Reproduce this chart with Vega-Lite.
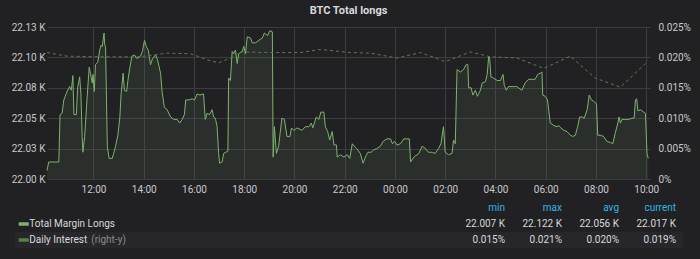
{
  "$schema": "https://vega.github.io/schema/vega-lite/v6.json",
  "background": "#212124",
  "padding": {"left": 11, "top": 5, "right": 14, "bottom": 12},
  "config": {
    "font": "Roboto",
    "view": {"stroke": null},
    "axis": {"labelFont": "Roboto", "labelFontSize": 10, "labelColor": "#c8c9ca", "domain": false, "ticks": false, "gridColor": "#3c3c41", "gridWidth": 1},
    "concat": {"spacing": 6}
  },
  "datasets": {
    "longs": [
      {"h":10.15,"v":22007},{"h":10.22,"v":22014},{"h":10.62,"v":22014},{"h":10.67,"v":22053},{"h":10.75,"v":22054},{"h":10.82,"v":22065},{"h":10.95,"v":22072},{"h":11.05,"v":22076},{"h":11.12,"v":22073},{"h":11.18,"v":22085},{"h":11.22,"v":22053},{"h":11.32,"v":22053},{"h":11.37,"v":22075},{"h":11.45,"v":22084},{"h":11.5,"v":22070},{"h":11.55,"v":22035},{"h":11.58,"v":22022},{"h":11.65,"v":22035},{"h":11.75,"v":22068},{"h":11.83,"v":22092},{"h":11.88,"v":22087},{"h":11.95,"v":22079},{"h":11.98,"v":22086},{"h":12.03,"v":22072},{"h":12.08,"v":22094},{"h":12.17,"v":22096},{"h":12.25,"v":22106},{"h":12.3,"v":22110},{"h":12.35,"v":22109},{"h":12.42,"v":22120},{"h":12.45,"v":22110},{"h":12.48,"v":22109},{"h":12.55,"v":22027},{"h":12.62,"v":22017},{"h":12.75,"v":22017},{"h":12.8,"v":22021},{"h":12.88,"v":22027},{"h":12.97,"v":22036},{"h":13.05,"v":22051},{"h":13.1,"v":22070},{"h":13.18,"v":22087},{"h":13.23,"v":22073},{"h":13.32,"v":22072},{"h":13.37,"v":22081},{"h":13.45,"v":22092},{"h":13.53,"v":22101},{"h":13.63,"v":22102},{"h":13.73,"v":22099},{"h":13.87,"v":22101},{"h":13.95,"v":22105},{"h":14.03,"v":22114},{"h":14.1,"v":22109},{"h":14.18,"v":22106},{"h":14.27,"v":22094},{"h":14.35,"v":22099},{"h":14.47,"v":22102},{"h":14.55,"v":22098},{"h":14.67,"v":22087},{"h":14.73,"v":22072},{"h":14.82,"v":22059},{"h":14.93,"v":22057},{"h":15.07,"v":22051},{"h":15.2,"v":22049},{"h":15.33,"v":22049},{"h":15.43,"v":22046},{"h":15.53,"v":22049},{"h":15.62,"v":22053},{"h":15.67,"v":22065},{"h":15.8,"v":22065},{"h":15.93,"v":22066},{"h":16.02,"v":22065},{"h":16.13,"v":22070},{"h":16.23,"v":22069},{"h":16.38,"v":22070},{"h":16.45,"v":22049},{"h":16.52,"v":22054},{"h":16.62,"v":22053},{"h":16.72,"v":22057},{"h":16.78,"v":22051},{"h":16.85,"v":22050},{"h":16.92,"v":22043},{"h":16.98,"v":22021},{"h":17.02,"v":22013},{"h":17.12,"v":22014},{"h":17.18,"v":22021},{"h":17.35,"v":22023},{"h":17.38,"v":22083},{"h":17.45,"v":22081},{"h":17.52,"v":22105},{"h":17.58,"v":22103},{"h":17.65,"v":22106},{"h":17.72,"v":22095},{"h":17.78,"v":22103},{"h":17.92,"v":22105},{"h":17.98,"v":22109},{"h":18.05,"v":22103},{"h":18.12,"v":22117},{"h":18.25,"v":22116},{"h":18.32,"v":22112},{"h":18.45,"v":22112},{"h":18.58,"v":22114},{"h":18.72,"v":22116},{"h":18.8,"v":22120},{"h":18.93,"v":22118},{"h":19.02,"v":22122},{"h":19.12,"v":22121},{"h":19.15,"v":22018},{"h":19.2,"v":22043},{"h":19.28,"v":22021},{"h":19.37,"v":22027},{"h":19.43,"v":22038},{"h":19.5,"v":22050},{"h":19.6,"v":22049},{"h":19.7,"v":22035},{"h":19.82,"v":22035},{"h":19.88,"v":22042},{"h":19.97,"v":22040},{"h":20.1,"v":22042},{"h":20.3,"v":22040},{"h":20.43,"v":22043},{"h":20.57,"v":22043},{"h":20.67,"v":22046},{"h":20.73,"v":22042},{"h":20.87,"v":22051},{"h":20.97,"v":22049},{"h":21.05,"v":22055},{"h":21.17,"v":22055},{"h":21.23,"v":22043},{"h":21.32,"v":22039},{"h":21.4,"v":22032},{"h":21.5,"v":22039},{"h":21.57,"v":22028},{"h":21.67,"v":22028},{"h":21.7,"v":22018},{"h":21.83,"v":22020},{"h":21.97,"v":22018},{"h":22.1,"v":22020},{"h":22.2,"v":22017},{"h":22.3,"v":22029},{"h":22.38,"v":22027},{"h":22.48,"v":22025},{"h":22.62,"v":22021},{"h":22.73,"v":22013},{"h":22.82,"v":22018},{"h":22.92,"v":22022},{"h":23.05,"v":22022},{"h":23.15,"v":22024},{"h":23.28,"v":22025},{"h":23.42,"v":22027},{"h":23.53,"v":22031},{"h":23.68,"v":22033},{"h":23.82,"v":22033},{"h":23.9,"v":22029},{"h":23.98,"v":22031},
      {"h":24.08,"v":22028},{"h":24.22,"v":22029},{"h":24.35,"v":22033},{"h":24.48,"v":22033},{"h":24.57,"v":22033},{"h":24.62,"v":22014},{"h":24.75,"v":22018},{"h":24.95,"v":22021},{"h":25.08,"v":22027},{"h":25.22,"v":22025},{"h":25.33,"v":22022},{"h":25.48,"v":22022},{"h":25.6,"v":22021},{"h":25.73,"v":22025},{"h":25.83,"v":22029},{"h":25.93,"v":22043},{"h":26,"v":22022},{"h":26.13,"v":22020},{"h":26.27,"v":22021},{"h":26.33,"v":22032},{"h":26.4,"v":22029},{"h":26.47,"v":22090},{"h":26.6,"v":22088},{"h":26.73,"v":22090},{"h":26.83,"v":22094},{"h":26.9,"v":22094},{"h":26.93,"v":22075},{"h":27.03,"v":22075},{"h":27.1,"v":22069},{"h":27.2,"v":22073},{"h":27.28,"v":22068},{"h":27.4,"v":22073},{"h":27.47,"v":22079},{"h":27.6,"v":22080},{"h":27.67,"v":22086},{"h":27.73,"v":22101},{"h":27.77,"v":22099},{"h":27.82,"v":22084},{"h":27.92,"v":22083},{"h":28.07,"v":22081},{"h":28.2,"v":22081},{"h":28.3,"v":22086},{"h":28.35,"v":22077},{"h":28.43,"v":22073},{"h":28.52,"v":22076},{"h":28.72,"v":22076},{"h":28.85,"v":22076},{"h":29.05,"v":22073},{"h":29.18,"v":22079},{"h":29.32,"v":22082},{"h":29.58,"v":22082},{"h":29.68,"v":22086},{"h":29.78,"v":22087},{"h":29.85,"v":22088},{"h":29.88,"v":22069},{"h":29.98,"v":22068},{"h":30.07,"v":22065},{"h":30.18,"v":22046},{"h":30.32,"v":22044},{"h":30.45,"v":22043},{"h":30.52,"v":22044},{"h":30.6,"v":22042},{"h":30.72,"v":22040},{"h":30.85,"v":22039},{"h":30.98,"v":22036},{"h":31.08,"v":22035},{"h":31.18,"v":22036},{"h":31.27,"v":22043},{"h":31.35,"v":22051},{"h":31.45,"v":22051},{"h":31.53,"v":22050},{"h":31.65,"v":22057},{"h":31.73,"v":22069},{"h":31.82,"v":22065},{"h":31.9,"v":22064},{"h":32.02,"v":22062},{"h":32.07,"v":22036},{"h":32.17,"v":22036},{"h":32.3,"v":22035},{"h":32.43,"v":22031},{"h":32.57,"v":22030},{"h":32.67,"v":22029},{"h":32.77,"v":22038},{"h":32.87,"v":22046},{"h":32.92,"v":22051},{"h":32.97,"v":22046},{"h":33.03,"v":22049},{"h":33.17,"v":22049},{"h":33.3,"v":22049},{"h":33.43,"v":22050},{"h":33.52,"v":22050},{"h":33.57,"v":22065},{"h":33.62,"v":22066},{"h":33.67,"v":22056},{"h":33.77,"v":22057},{"h":33.9,"v":22055},{"h":33.97,"v":22054},{"h":34.03,"v":22021},{"h":34.08,"v":22017}
    ],
    "interest": [
      {"h":10.15,"p":0.0208},{"h":10.95,"p":0.0202},{"h":12.28,"p":0.0201},{"h":13.87,"p":0.0201},{"h":14.93,"p":0.0207},{"h":15.87,"p":0.0206},{"h":16.52,"p":0.0196},{"h":16.98,"p":0.0191},{"h":17.45,"p":0.0199},{"h":17.85,"p":0.0209},{"h":18.92,"p":0.0208},{"h":20.23,"p":0.0208},{"h":21.03,"p":0.0213},{"h":22.23,"p":0.0208},{"h":23.02,"p":0.0207},{"h":24.08,"p":0.0199},{"h":25.02,"p":0.0208},{"h":26,"p":0.0193},{"h":27,"p":0.0209},{"h":27.8,"p":0.0201},{"h":28.85,"p":0.0199},{"h":29.92,"p":0.0182},{"h":30.98,"p":0.0202},{"h":31.97,"p":0.0166},{"h":32.97,"p":0.0151},{"h":33.97,"p":0.0190}
    ],
    "series": [{"series":"Total Margin Longs"},{"series":"Daily Interest"}],
    "stats": [
      {"series":"Total Margin Longs","stat":"min","text":"22.007 K"},{"series":"Total Margin Longs","stat":"max","text":"22.122 K"},{"series":"Total Margin Longs","stat":"avg","text":"22.056 K"},{"series":"Total Margin Longs","stat":"current","text":"22.017 K"},
      {"series":"Daily Interest","stat":"min","text":"0.015%"},{"series":"Daily Interest","stat":"max","text":"0.021%"},{"series":"Daily Interest","stat":"avg","text":"0.020%"},{"series":"Daily Interest","stat":"current","text":"0.019%"}
    ],
    "headers": [{"stat":"min"},{"stat":"max"},{"stat":"avg"},{"stat":"current"}]
  },
  "vconcat": [
    {
      "width": 603,
      "height": 152,
      "title": {"text": "BTC Total longs", "font": "Roboto", "fontSize": 11, "fontWeight": "bold", "color": "#d8d9da", "anchor": "middle", "offset": 6},
      "encoding": {
        "x": {"field": "h", "type": "quantitative", "title": null, "scale": {"domain": [10.15, 34.15], "nice": false, "zero": false}, "axis": {"values": [12, 14, 16, 18, 20, 22, 24, 26, 28, 30, 32, 34], "labelExpr": "pad(toString(datum.value % 24), 2, '0', 'left') + ':00'", "grid": true, "labelPadding": 5, "labelFlush": false}}
      },
      "layer": [
        {
          "data": {"name": "longs"},
          "encoding": {
            "y": {"field": "v", "type": "quantitative", "title": null, "scale": {"domain": [22000, 22125], "zero": false, "nice": false}, "axis": {"values": [22000, 22025, 22050, 22075, 22100, 22125], "labelExpr": "format(round(datum.value/10)/100, '.2f') + ' K'", "grid": true, "labelPadding": 2}}
          },
          "layer": [
            {"mark": {"type": "area", "color": "#7eb26d", "opacity": 0.1}, "encoding": {"y2": {"datum": 22000}}},
            {"mark": {"type": "line", "color": "#7eb26d", "strokeWidth": 1}}
          ]
        },
        {
          "data": {"name": "interest"},
          "mark": {"type": "line", "color": "#5b7d4f", "strokeWidth": 1, "strokeDash": [3, 3]},
          "encoding": {
            "y": {"field": "p", "type": "quantitative", "title": null, "scale": {"domain": [0, 0.025], "nice": false}, "axis": {"orient": "right", "values": [0, 0.005, 0.01, 0.015, 0.02, 0.025], "labelExpr": "datum.value == 0 ? '0%' : format(datum.value, '.3f') + '%'", "grid": false, "labelPadding": 8}}
          }
        }
      ],
      "resolve": {"scale": {"y": "independent"}}
    },
    {
      "width": 636,
      "height": 48,
      "layer": [
        {
          "data": {"values": [{"series": "Daily Interest"}]},
          "mark": {"type": "rect", "color": "#27272b"},
          "encoding": {
            "x": {"datum": 0, "type": "quantitative", "scale": {"domain": [0, 1], "range": [-32, 636], "nice": false, "zero": false}, "axis": null},
            "x2": {"datum": 1},
            "y": {"field": "series", "type": "nominal", "scale": {"domain": ["header", "Total Margin Longs", "Daily Interest"], "paddingInner": 0, "paddingOuter": 0}, "axis": null}
          }
        },
        {
          "data": {"name": "series"},
          "mark": {"type": "point", "shape": "M-1,-0.35L1,-0.35L1,0.35L-1,0.35Z", "filled": true, "size": 100, "opacity": 1},
          "encoding": {
            "x": {"datum": "swatch", "type": "nominal", "scale": {"type": "point", "domain": ["swatch", "label"], "range": [-26, -15]}, "axis": null},
            "y": {"field": "series", "type": "nominal"},
            "color": {"field": "series", "type": "nominal", "scale": {"domain": ["Total Margin Longs", "Daily Interest"], "range": ["#7eb26d", "#508642"]}, "legend": null}
          }
        },
        {
          "data": {"name": "series"},
          "mark": {"type": "text", "align": "left", "color": "#d8d9da", "fontSize": 10},
          "encoding": {
            "x": {"datum": "label", "type": "nominal", "scale": {"type": "point", "domain": ["swatch", "label"], "range": [-26, -15]}, "axis": null},
            "y": {"field": "series", "type": "nominal"},
            "text": {"field": "series"}
          }
        },
        {
          "data": {"values": [{"series": "Daily Interest", "note": "(right-y)"}]},
          "mark": {"type": "text", "align": "left", "color": "#8a8a8e", "fontSize": 10, "dx": 62},
          "encoding": {
            "x": {"datum": "label", "type": "nominal", "scale": {"type": "point", "domain": ["swatch", "label"], "range": [-26, -15]}, "axis": null},
            "y": {"field": "series", "type": "nominal"},
            "text": {"field": "note"}
          }
        },
        {
          "data": {"name": "headers"},
          "mark": {"type": "text", "align": "right", "color": "#33b5e5", "fontSize": 10},
          "encoding": {
            "x": {"field": "stat", "type": "nominal", "bandPosition": 1, "scale": {"type": "band", "domain": ["min", "max", "avg", "current"], "range": [401, 629], "paddingInner": 0, "paddingOuter": 0}, "axis": null},
            "y": {"datum": "header", "type": "nominal"},
            "text": {"field": "stat"}
          }
        },
        {
          "data": {"name": "stats"},
          "mark": {"type": "text", "align": "right", "color": "#d8d9da", "fontSize": 10},
          "encoding": {
            "x": {"field": "stat", "type": "nominal", "bandPosition": 1, "scale": {"type": "band", "domain": ["min", "max", "avg", "current"], "range": [401, 629], "paddingInner": 0, "paddingOuter": 0}, "axis": null},
            "y": {"field": "series", "type": "nominal"},
            "text": {"field": "text"}
          }
        }
      ],
      "resolve": {"scale": {"x": "independent"}}
    }
  ]
}
